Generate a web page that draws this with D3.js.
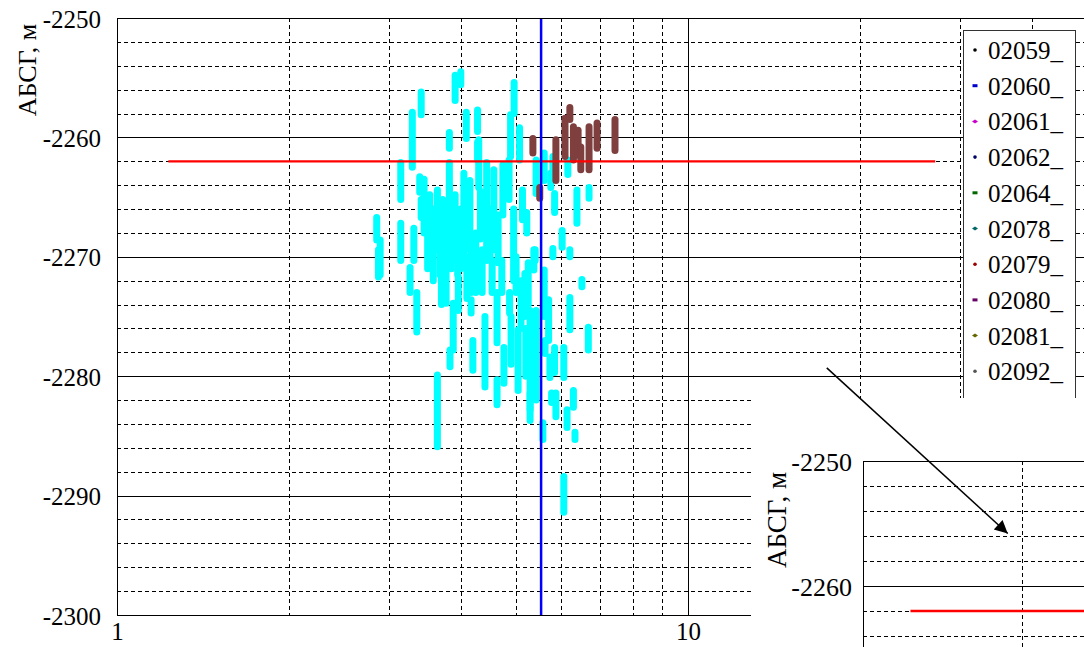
<!DOCTYPE html>
<html><head><meta charset="utf-8">
<script src="https://cdn.jsdelivr.net/npm/d3@7"></script>
<style>body{margin:0;background:#fff}svg{display:block}text{font-family:"Liberation Serif","Times New Roman",serif}</style>
</head><body>
<svg id="c" width="1084" height="647"></svg>
<script>
// ---------- data ----------
const yTicks = [-2300, -2290, -2280, -2270, -2260, -2250];
const xTickLabels = [1, 10];
const yTitle = "АБСГ, м";
// cyan well intervals: [x, top depth, bottom depth]
const cyanSeries = [
 [3.29,-2257.9,-2262.5],[3.41,-2256.2,-2258.1],[3.82,-2259.6,-2260.9],[3.91,-2254.8,-2256.9],
 [4.00,-2254.5,-2255.6],[4.09,-2257.9,-2260.1],[4.28,-2257.7,-2259.5],[4.28,-2260.4,-2261.9],
 [4.96,-2255.4,-2258.0],[4.89,-2258.1,-2261.6],[5.07,-2259.2,-2261.9],[3.14,-2262.1,-2265.2],
 [3.39,-2263.3,-2264.6],[2.85,-2266.7,-2268.6],[2.89,-2268.6,-2271.5],[3.14,-2267.2,-2270.3],
 [3.31,-2267.6,-2270.3],[3.41,-2265.2,-2266.7],[3.53,-2264.8,-2270.3],[3.64,-2264.4,-2269.4],
 [3.72,-2265.2,-2270.4],[3.82,-2264.0,-2269.8],[3.91,-2264.8,-2270.3],[3.82,-2262.1,-2264.4],
 [4.05,-2263.0,-2270.3],[4.15,-2263.6,-2269.4],[4.30,-2260.2,-2264.2],[4.44,-2262.1,-2270.3],
 [4.57,-2262.7,-2269.4],[4.74,-2262.3,-2266.5],[4.86,-2261.9,-2265.2],[5.13,-2264.4,-2266.9],
 [5.22,-2266.3,-2268.0],[5.42,-2261.9,-2264.7],[5.40,-2269.4,-2270.3],[5.60,-2261.3,-2263.6],
 [5.80,-2261.6,-2263.0],[5.75,-2263.0,-2264.2],[5.84,-2264.7,-2266.3],[6.02,-2267.8,-2269.2],
 [5.80,-2269.3,-2270.0],[6.16,-2261.9,-2263.1],[6.21,-2269.4,-2270.0],[6.39,-2264.4,-2267.2],
 [6.71,-2264.2,-2265.1],[2.87,-2269.4,-2271.7],[3.26,-2270.9,-2273.0],[3.35,-2273.0,-2276.3],
 [3.68,-2269.0,-2271.5],[3.85,-2269.5,-2271.0],[3.95,-2269.0,-2271.5],[3.77,-2271.1,-2273.9],
 [3.88,-2273.9,-2277.8],[3.83,-2277.8,-2279.2],[3.96,-2271.7,-2274.5],[3.64,-2279.9,-2285.9],
 [4.17,-2269.4,-2273.0],[4.17,-2273.6,-2274.7],[4.20,-2277.0,-2279.5],[4.36,-2269.4,-2273.0],
 [4.41,-2275.0,-2278.9],[4.41,-2279.1,-2280.9],[4.54,-2270.3,-2273.0],[4.72,-2270.3,-2273.0],
 [4.63,-2273.0,-2277.2],[4.63,-2280.3,-2282.4],[4.76,-2277.6,-2280.6],[4.87,-2273.0,-2274.7],
 [5.04,-2276.1,-2281.2],[5.18,-2271.4,-2275.0],[5.29,-2274.5,-2282.8],[5.42,-2274.5,-2282.0],
 [5.29,-2281.4,-2283.7],[5.37,-2269.4,-2271.1],[5.60,-2271.1,-2275.0],[5.62,-2277.0,-2278.1],
 [5.70,-2273.6,-2277.0],[5.73,-2278.4,-2280.1],[5.77,-2281.4,-2282.2],[5.84,-2277.6,-2279.7],
 [6.06,-2277.6,-2280.1],[5.87,-2281.4,-2283.4],[6.14,-2282.8,-2284.3],[6.21,-2273.4,-2276.1],
 [6.30,-2281.2,-2282.6],[6.52,-2271.9,-2272.5],[6.69,-2275.9,-2277.8],[6.34,-2284.7,-2285.3],
 [5.57,-2283.9,-2285.3],[6.06,-2288.4,-2291.4],
 [3.45,-2263.5,-2268.0],[3.58,-2266.0,-2272.0],[3.70,-2271.0,-2274.0],[4.00,-2266.0,-2271.0],
 [4.10,-2270.0,-2273.5],[4.25,-2268.0,-2273.0],[4.50,-2266.0,-2270.0],[4.65,-2266.5,-2270.5],
 [4.95,-2266.0,-2272.0],[5.10,-2272.0,-2276.0],[5.20,-2276.0,-2280.0],[5.35,-2276.0,-2280.5],
 [4.90,-2275.0,-2279.0],[3.50,-2268.0,-2271.0],[3.76,-2266.5,-2271.5],[4.33,-2264.5,-2268.5],
 [5.00,-2270.0,-2273.0],[5.25,-2270.5,-2274.0]
];
// brown well intervals
const brownSeries = [
 [5.35,-2260.1,-2261.3],[5.50,-2264.2,-2265.1],[5.87,-2260.2,-2263.6],[6.09,-2258.4,-2261.6],
 [6.21,-2257.5,-2258.5],[6.30,-2259.1,-2261.9],[6.42,-2259.4,-2261.5],[6.49,-2260.8,-2262.7],
 [6.71,-2259.1,-2262.7],[6.93,-2258.8,-2260.9],[7.45,-2258.5,-2261.1]
];
const contactLevel = -2262;          // red line
const contactRange = [1.23, 27.1];
const cutoffX = 5.53;                // blue line
const legendNames = ["02059_","02060_","02061_","02062_","02064_","02078_","02079_","02080_","02081_","02092_","02093_"];
const legendColors = ["#000000","#0000cc","#cc00cc","#000066","#006600","#006666","#990000","#660066","#666600","#555555","#000000"];
const legendShapes = ["dot","sq","dia","dot","sq","dia","dot","sq","dia","dot","dot"];
const insetTicks = [-2260, -2250];
// arrow: from main chart point to inset point
const arrowFrom = [17.5, -2279.3];
const arrowTo = [1.88, -2255.8];

// ---------- drawing ----------
const svg = d3.select("#c");
const W = 1084, H = 647;
svg.append("rect").attr("width", W).attr("height", H).attr("fill", "#fff");

const x = d3.scaleLog().domain([1, 100]).range([117, 1259]);
const y = d3.scaleLinear().domain([-2300, -2250]).range([615, 18]);
const FS = 25;
const dash = "4,3";
const fmt = d => String(d);

const defs = svg.append("defs");
defs.append("clipPath").attr("id", "mainclip").append("rect")
  .attr("x", 117).attr("y", 18).attr("width", W - 117).attr("height", 615 - 18);
defs.append("marker").attr("id", "ah").attr("viewBox", "0 0 10 10").attr("refX", 10).attr("refY", 5)
  .attr("markerWidth", 17).attr("markerHeight", 13).attr("markerUnits", "userSpaceOnUse").attr("orient", "auto")
  .append("path").attr("d", "M0,0 L10,5 L0,10 Z").attr("fill", "#000");

const g = svg.append("g").attr("clip-path", "url(#mainclip)");
// horizontal grid
const hVals = d3.range(-2298, -2250, 2);
g.selectAll(".hg").data(hVals).join("line")
  .attr("x1", 117).attr("x2", W).attr("y1", d => Math.round(y(d)) + 0.5).attr("y2", d => Math.round(y(d)) + 0.5)
  .attr("stroke", "#000")
  .attr("stroke-width", 1)
  .attr("stroke-dasharray", d => d % 10 === 0 ? null : dash);
// vertical grid
const vVals = [2,3,4,5,6,7,8,9,10,20,30,40,50,60,70,80,90];
g.selectAll(".vg").data(vVals).join("line")
  .attr("x1", d => Math.round(x(d)) + 0.5).attr("x2", d => Math.round(x(d)) + 0.5).attr("y1", 18).attr("y2", 615)
  .attr("stroke", "#000")
  .attr("stroke-dasharray", d => d === 10 ? null : dash);

// data
function drawSeries(data, color) {
  g.selectAll(null).data(data).join("line")
    .attr("x1", d => x(d[0])).attr("x2", d => x(d[0]))
    .attr("y1", d => y(d[1])).attr("y2", d => y(d[2]))
    .attr("stroke", color).attr("stroke-width", 7).attr("stroke-linecap", "round");
}
drawSeries(cyanSeries, "#00ffff");
drawSeries(brownSeries, "#7f3f3f");

// red line
g.append("line").attr("x1", x(contactRange[0])).attr("x2", x(contactRange[1]))
  .attr("y1", y(contactLevel)).attr("y2", y(contactLevel))
  .attr("stroke", "#ff0000").attr("stroke-width", 2.2);
// blue line
g.append("line").attr("x1", x(cutoffX)).attr("x2", x(cutoffX)).attr("y1", 18).attr("y2", 615)
  .attr("stroke", "#0000ff").attr("stroke-width", 2.5);

// frame
svg.append("line").attr("x1", 117).attr("x2", W).attr("y1", 18.5).attr("y2", 18.5).attr("stroke", "#000");
svg.append("line").attr("x1", 117).attr("x2", W).attr("y1", 615.5).attr("y2", 615.5).attr("stroke", "#000");
svg.append("line").attr("x1", 117.5).attr("x2", 117.5).attr("y1", 18).attr("y2", 616).attr("stroke", "#000");

// axes labels
const ya = svg.append("g").attr("transform", "translate(117,0)")
  .call(d3.axisLeft(y).tickValues(yTicks).tickSize(0).tickPadding(16).tickFormat(fmt));
ya.select(".domain").remove();
ya.selectAll("text").attr("font-size", FS).attr("fill", "#000").attr("dy", "0.36em");
const xa = svg.append("g").attr("transform", "translate(0,615)")
  .call(d3.axisBottom(x).tickValues(xTickLabels).tickSize(0).tickPadding(7).tickFormat(fmt));
xa.select(".domain").remove();
xa.selectAll("text").attr("font-size", FS).attr("fill", "#000");

svg.append("text").attr("transform", "translate(36,70) rotate(-90)")
  .attr("text-anchor", "middle").attr("font-size", 26).text(yTitle);

// legend
const lg = svg.append("g");
lg.append("rect").attr("x", 963.5).attr("y", 30.5).attr("width", 112).attr("height", 420)
  .attr("fill", "#fff").attr("stroke", "#333");
legendNames.forEach((n, i) => {
  const cy = 50 + i * 35.7;
  const c = legendColors[i], s = legendShapes[i];
  if (s === "dot") lg.append("circle").attr("cx", 975).attr("cy", cy).attr("r", 1.8).attr("fill", c);
  else if (s === "sq") lg.append("rect").attr("x", 972.5).attr("y", cy - 1.5).attr("width", 5).attr("height", 3).attr("fill", c);
  else lg.append("path").attr("d", `M${972},${cy} L${975},${cy-2} L${978},${cy} L${975},${cy+2}Z`).attr("fill", c);
  lg.append("text").attr("x", 988).attr("y", cy).attr("dy", "0.36em").attr("font-size", FS).text(n);
});

// inset cover
svg.append("rect").attr("x", 751).attr("y", 398).attr("width", W - 751).attr("height", H - 398).attr("fill", "#fff");

// inset chart
const xi = d3.scaleLog().domain([1, 10]).range([863, 863 + 528]);
const yi = d3.scaleLinear().domain([-2260, -2250]).range([586, 461]);
const gi = svg.append("g");
const hi = d3.range(-2264, -2250, 2);
gi.selectAll(null).data(hi).join("line")
  .attr("x1", 863).attr("x2", W).attr("y1", d => Math.round(yi(d)) + 0.5).attr("y2", d => Math.round(yi(d)) + 0.5)
  .attr("stroke", "#000")
  .attr("stroke-dasharray", d => d % 10 === 0 ? null : dash);
gi.selectAll(null).data([2]).join("line")
  .attr("x1", d => Math.round(xi(d)) + 0.5).attr("x2", d => Math.round(xi(d)) + 0.5).attr("y1", 461).attr("y2", H)
  .attr("stroke", "#000").attr("stroke-dasharray", dash);
gi.append("line").attr("x1", xi(contactRange[0])).attr("x2", W)
  .attr("y1", yi(contactLevel)).attr("y2", yi(contactLevel)).attr("stroke", "#ff0000").attr("stroke-width", 2.5);
gi.append("line").attr("x1", 863).attr("x2", W).attr("y1", 461.5).attr("y2", 461.5).attr("stroke", "#000");
gi.append("line").attr("x1", 863.5).attr("x2", 863.5).attr("y1", 461).attr("y2", H).attr("stroke", "#000");
const yia = gi.append("g").attr("transform", "translate(863,0)")
  .call(d3.axisLeft(yi).tickValues(insetTicks).tickSize(0).tickPadding(11).tickFormat(fmt));
yia.select(".domain").remove();
yia.selectAll("text").attr("font-size", 26).attr("fill", "#000").attr("dy", "0.36em");
gi.append("text").attr("transform", "translate(786,520) rotate(-90)")
  .attr("text-anchor", "middle").attr("font-size", 27).text(yTitle);

// arrow
svg.append("line")
  .attr("x1", x(arrowFrom[0])).attr("y1", y(arrowFrom[1]))
  .attr("x2", xi(arrowTo[0])).attr("y2", yi(arrowTo[1]))
  .attr("stroke", "#000").attr("stroke-width", 1.5).attr("marker-end", "url(#ah)");
</script>
</body></html>
